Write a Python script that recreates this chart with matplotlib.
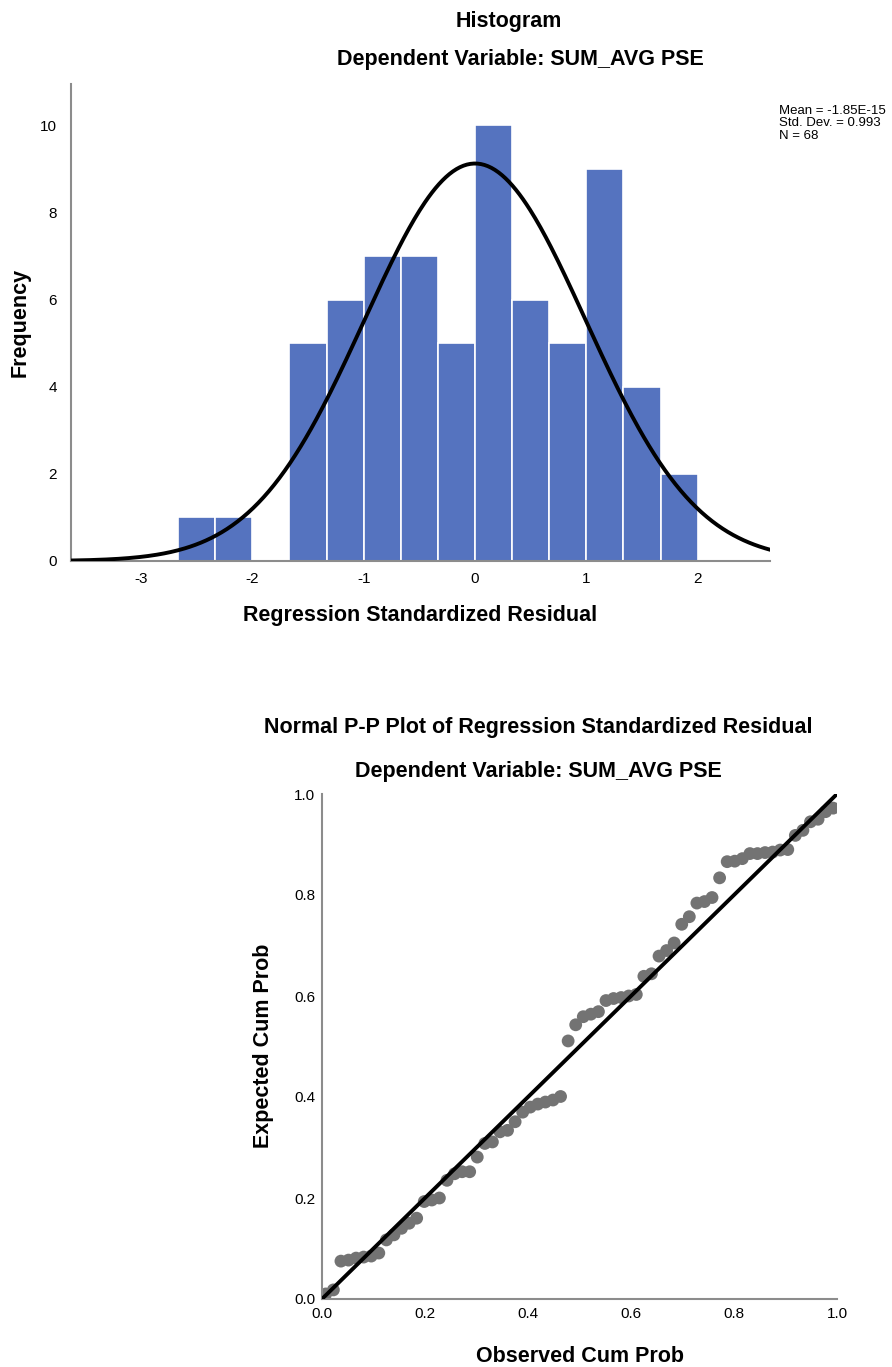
import matplotlib
matplotlib.use('Agg')
import matplotlib.pyplot as plt
import numpy as np

plt.rcParams['axes.unicode_minus'] = False

# histogram of standardized residuals
bin_edges = np.array([-2.667, -2.333, -2.0, -1.667, -1.333, -1.0, -0.667, -0.333,
                      0.0, 0.333, 0.667, 1.0, 1.333, 1.667, 2.0])
counts = np.array([1, 1, 0, 5, 6, 7, 7, 5, 10, 6, 5, 9, 4, 2])
res_mean = -1.85e-15
res_sd = 0.993
n_obs = 68

# P-P plot: expected cum prob for each ordered residual
expected_cum = [0.010, 0.018, 0.075, 0.077, 0.081, 0.083, 0.085, 0.091,
                0.117, 0.127, 0.140, 0.150, 0.160, 0.193, 0.196, 0.200,
                0.235, 0.248, 0.252, 0.252, 0.281, 0.308, 0.311, 0.331,
                0.334, 0.351, 0.370, 0.380, 0.386, 0.390, 0.394, 0.401,
                0.511, 0.543, 0.559, 0.564, 0.569, 0.591, 0.595, 0.597,
                0.600, 0.603, 0.639, 0.644, 0.679, 0.690, 0.705, 0.742,
                0.757, 0.784, 0.787, 0.795, 0.834, 0.866, 0.867, 0.872,
                0.882, 0.882, 0.884, 0.885, 0.889, 0.890, 0.918, 0.928,
                0.945, 0.950, 0.965, 0.972]
observed_cum = (np.arange(1, n_obs + 1) - 0.5) / n_obs

dep_title = 'Dependent Variable: SUM_AVG PSE'
bold = ['Liberation Sans', 'DejaVu Sans']
narrow = ['Liberation Sans Narrow', 'Liberation Sans', 'DejaVu Sans']
axis_grey = '#8c8c8c'
big = 15.5

fig = plt.figure(figsize=(8.92, 13.67), dpi=100)
W, H = 892, 1367


def ax_box(left, top, right, bottom):
    return [left / W, 1 - bottom / H, (right - left) / W, (bottom - top) / H]


def ftext(x, y, s, **kw):
    fig.text(x / W, 1 - y / H, s, ha='center', va='center', **kw)


def style(ax):
    for s in ['top', 'right']:
        ax.spines[s].set_visible(False)
    for s in ['left', 'bottom']:
        ax.spines[s].set_color(axis_grey)
        ax.spines[s].set_linewidth(1.5)
    ax.tick_params(length=0, pad=8)


# ---- histogram
ax1 = fig.add_axes(ax_box(71, 84, 770, 561))
ax1.bar(bin_edges[:-1], counts, width=np.diff(bin_edges), align='edge',
        color='#5573bf', edgecolor='white', linewidth=1.2, zorder=2)
xs = np.linspace(-3.63, 2.65, 400)
bw = bin_edges[1] - bin_edges[0]
pdf = n_obs * bw * np.exp(-0.5 * ((xs - res_mean) / res_sd) ** 2) / (res_sd * np.sqrt(2 * np.pi))
ax1.plot(xs, pdf, color='black', lw=2.8, zorder=3)
ax1.set_xlim(-3.63, 2.65)
ax1.set_ylim(0, 10.95)
ax1.set_xticks([-3, -2, -1, 0, 1, 2])
ax1.set_yticks([0, 2, 4, 6, 8, 10])
style(ax1)
ax1.tick_params(axis='y', pad=10)
for lab in ax1.get_xticklabels() + ax1.get_yticklabels():
    lab.set_family(narrow)
    lab.set_fontsize(11)

ftext(509, 21, 'Histogram', fontsize=big, fontweight='bold', family=bold)
ftext(520, 60, dep_title, fontsize=big, fontweight='bold', family=bold)
ftext(20, 322, 'Frequency', rotation=90, fontsize=big, fontweight='bold', family=bold)
ftext(420, 616, 'Regression Standardized Residual', fontsize=big, fontweight='bold', family=bold)
fig.text(779 / W, 1 - 105 / H,
         'Mean = -1.85E-15\nStd. Dev. = 0.993\nN = 68',
         ha='left', va='top', fontsize=9.5, family=narrow, linespacing=1.05)

# ---- P-P plot
ax2 = fig.add_axes(ax_box(322, 794, 837, 1299))
ax2.plot([0, 1], [0, 1], color='black', lw=2.8, zorder=3)
ax2.scatter(observed_cum, expected_cum, s=85, color='#737373', edgecolors='none', zorder=2)
ax2.set_xlim(0, 1)
ax2.set_ylim(0, 1)
ticks = np.arange(0, 1.01, 0.2)
tick_labels = ['0.0', '0.2', '0.4', '0.6', '0.8', '1.0']
ax2.set_xticks(ticks)
ax2.set_yticks(ticks)
ax2.set_xticklabels(tick_labels)
ax2.set_yticklabels(tick_labels)
style(ax2)
ax2.tick_params(axis='x', pad=6)
ax2.tick_params(axis='y', pad=5)
for lab in ax2.get_xticklabels() + ax2.get_yticklabels():
    lab.set_family(narrow)
    lab.set_fontsize(11)

ftext(538, 728, 'Normal P-P Plot of Regression Standardized Residual',
      fontsize=big, fontweight='bold', family=bold)
ftext(538, 772, dep_title, fontsize=big, fontweight='bold', family=bold)
ftext(264, 1046, 'Expected Cum Prob', rotation=90, fontsize=big, fontweight='bold', family=bold)
ftext(580, 1356, 'Observed Cum Prob', fontsize=big, fontweight='bold', family=bold)

fig.savefig('out.png', dpi=100)
